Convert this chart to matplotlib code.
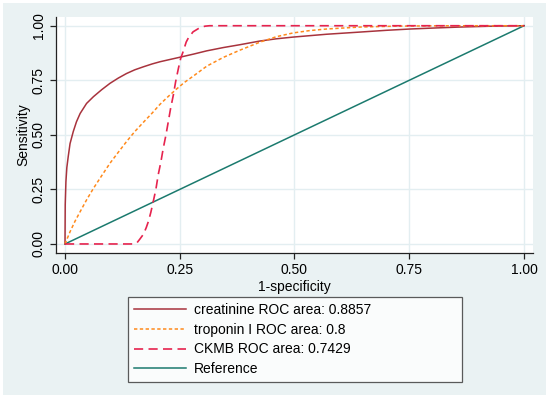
import numpy as np
import matplotlib
matplotlib.use("Agg")
import matplotlib.pyplot as plt

plt.rcParams['font.family'] = ['Liberation Sans', 'DejaVu Sans']

# values
creat_fpr = [0.0, 0.0005, 0.002, 0.004, 0.007, 0.011, 0.018, 0.025, 0.033, 0.047, 0.062,
             0.080, 0.098, 0.116, 0.134, 0.152, 0.171, 0.190, 0.207, 0.230, 0.251,
             0.280, 0.309, 0.345, 0.381, 0.425, 0.460, 0.497, 0.570, 0.643, 0.700,
             0.752, 0.810, 0.861, 0.930, 1.0]
creat_tpr = [0.0, 0.18, 0.285, 0.35, 0.40, 0.46, 0.515, 0.56, 0.598, 0.644, 0.675,
             0.707, 0.736, 0.760, 0.781, 0.798, 0.812, 0.825, 0.835, 0.846, 0.856,
             0.870, 0.885, 0.900, 0.913, 0.930, 0.940, 0.948, 0.961, 0.971, 0.979,
             0.985, 0.990, 0.994, 0.998, 1.0]

trop_fpr = [0.0, 0.011, 0.022, 0.033, 0.047, 0.062, 0.080, 0.098, 0.116, 0.134,
            0.152, 0.171, 0.190, 0.207, 0.225, 0.243, 0.260, 0.280, 0.309, 0.345,
            0.381, 0.425, 0.461, 0.497, 0.534, 0.570, 0.643, 0.720, 0.800, 0.900, 1.0]
trop_tpr = [0.0, 0.056, 0.105, 0.148, 0.202, 0.255, 0.313, 0.370, 0.420, 0.469,
            0.515, 0.558, 0.600, 0.640, 0.676, 0.710, 0.740, 0.770, 0.815, 0.855,
            0.888, 0.925, 0.950, 0.967, 0.978, 0.985, 0.994, 0.998, 0.9995, 1.0, 1.0]

ckmb_fpr = [0.0, 0.150, 0.157, 0.163, 0.171, 0.177, 0.182, 0.187, 0.192, 0.198,
            0.203, 0.209, 0.214, 0.220, 0.225, 0.230, 0.236, 0.241, 0.247, 0.252,
            0.258, 0.264, 0.269, 0.279, 0.293, 0.305, 0.315, 1.0]
ckmb_tpr = [0.0, 0.0, 0.006, 0.022, 0.045, 0.075, 0.105, 0.145, 0.192, 0.250,
            0.316, 0.377, 0.438, 0.500, 0.560, 0.620, 0.682, 0.743, 0.804, 0.850,
            0.885, 0.925, 0.945, 0.972, 0.990, 0.998, 1.0, 1.0]

ref_x = [0.0, 1.0]
ref_y = [0.0, 1.0]

labels = ["creatinine ROC area: 0.8857", "troponin I ROC area: 0.8",
          "CKMB ROC area: 0.7429", "Reference"]
ticks = [0.0, 0.25, 0.5, 0.75, 1.0]
tick_labels = ["0.00", "0.25", "0.50", "0.75", "1.00"]

bg = '#EAF2F3'
grid_c = '#E3EEF1'
fs = 10

fig = plt.figure(figsize=(5.5, 4.03), dpi=100)
fig.patch.set_facecolor('white')
# light frame of the whole graph region
fig.patches.append(plt.Rectangle((3/550, 1 - 395/403), 543/550, 392/403,
                                 transform=fig.transFigure, facecolor=bg,
                                 edgecolor='none', zorder=-10))

ax = fig.add_axes([56/550, 1 - 252.7/403, 477/550, 235.7/403])
ax.set_facecolor('white')

ax.plot(creat_fpr, creat_tpr, color='#A8333D', lw=1.1, label=labels[0], zorder=3)
ax.plot(trop_fpr, trop_tpr, color='#FF8A1C', lw=1.1, linestyle=(0, (2.2, 1.6)),
        label=labels[1], zorder=3)
ax.plot(ckmb_fpr, ckmb_tpr, color='#E6234E', lw=1.2, linestyle=(0, (5.5, 3.2)),
        label=labels[2], zorder=4)
ax.plot(ref_x, ref_y, color='#1B7A6E', lw=1.1, label=labels[3], zorder=2)

ax.set_xlim(-0.0196, 1.0196)
ax.set_ylim(-0.04, 1.04)
ax.set_xticks(ticks)
ax.set_xticklabels(tick_labels)
ax.set_yticks(ticks)
ax.set_yticklabels(tick_labels, rotation=90, va='center')
ax.grid(True, color=grid_c, lw=1.0)
ax.set_axisbelow(True)
for s in ['top', 'right']:
    ax.spines[s].set_visible(False)
for s in ['left', 'bottom']:
    ax.spines[s].set_color('#222222')
    ax.spines[s].set_linewidth(0.9)
ax.tick_params(direction='out', length=4.5, width=0.9, color='#222222',
               labelsize=fs, pad=3)
ax.set_xlabel("1-specificity", fontsize=fs, labelpad=2)
ax.set_ylabel("Sensitivity", fontsize=fs, labelpad=1)

leg = ax.legend(loc='upper left', bbox_to_anchor=(128/550, 0, 334/550, 1 - 297/403),
                bbox_transform=fig.transFigure, mode='expand', fontsize=fs,
                frameon=True, fancybox=False, handlelength=3.7, handletextpad=0.6,
                labelspacing=0.4, borderpad=0.45, borderaxespad=0)
leg.get_frame().set_edgecolor('#333333')
leg.get_frame().set_linewidth(0.9)

fig.savefig("out.png", dpi=100, facecolor='white')
